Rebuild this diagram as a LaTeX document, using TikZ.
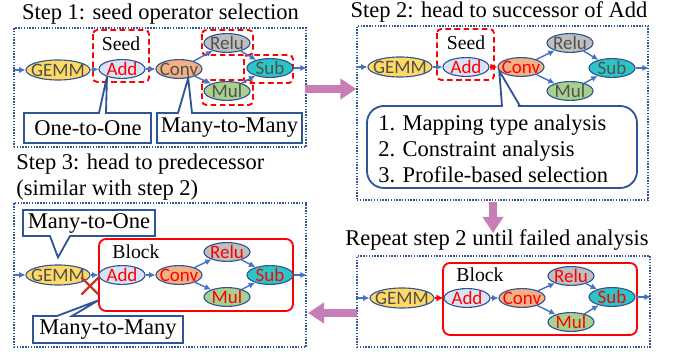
\documentclass[tikz,border=0pt]{standalone}
\usepackage{fontspec}
\setmainfont{Liberation Serif}
\newfontfamily\calibri{Carlito}
\usepackage{tikz}
\usetikzlibrary{shapes.geometric,shapes.misc,arrows.meta,fit,positioning}

\definecolor{opline}{HTML}{2F5597}
\definecolor{flowblue}{HTML}{4472C4}
\definecolor{panelblue}{HTML}{2F5597}
\definecolor{optext}{HTML}{505050}
\definecolor{gemmfill}{HTML}{FFD966}
\definecolor{addfill}{HTML}{DAE3F3}
\definecolor{convfill}{HTML}{F4B183}
\definecolor{relufill}{HTML}{BFBFBF}
\definecolor{mulfill}{HTML}{A9D18E}
\definecolor{subfill}{HTML}{2CC5C5}
\definecolor{pinkarrow}{HTML}{C77DB5}
\definecolor{xred}{HTML}{C0392B}

\begin{document}
\begin{tikzpicture}[x=0.025cm, y=-0.025cm,
  op/.style={ellipse, draw=opline, line width=0.8pt, inner xsep=-3pt, inner ysep=-1.5pt,
    minimum width=1.15cm, minimum height=0.47cm, text=optext,
    font=\calibri\fontsize{13.5}{15}\selectfont},
  gemm/.style={op, fill=gemmfill, minimum width=1.55cm, minimum height=0.5cm},
  flow/.style={draw=flowblue, line width=1pt, -{Latex[length=4.5pt,width=4.5pt]}},
  redflow/.style={flow, draw=red, line width=1.4pt, -{Latex[length=5pt,width=5pt]}},
  panel/.style={draw=panelblue, line width=1pt, dash pattern=on 1pt off 1pt, inner sep=0pt},
  seedbox/.style={draw=red, line width=1.3pt, dash pattern=on 4pt off 2.5pt, rounded corners=3pt},
  blockbox/.style={draw=red, line width=1.3pt, rounded corners=5pt},
  callbox/.style={draw=opline, line width=1.3pt, fill=white},
  calltext/.style={inner sep=0pt, font=\fontsize{16}{18.5}\selectfont},
  title/.style={inner sep=0pt, font=\fontsize{16}{18.5}\selectfont},
  lbl/.style={inner sep=0pt, font=\fontsize{14}{16}\selectfont},
  crossx/.style={cross out, draw=xred, line width=1.6pt, minimum size=0.375cm, inner sep=0pt},
  bigarrow/.style={draw=pinkarrow, line width=0.2cm, -{Triangle[length=0.4cm,width=0.5cm]}}]
  \useasboundingbox (0,0) rectangle (673,352);

  \node[title] (t1) at (160.5,14) {Step 1: seed operator selection};
  \node[title] (t2) at (499,12) {Step 2: head to successor of Add};
  \node[title, align=left, anchor=west] (t3) at (16,177) {Step 3: head to predecessor\\(similar with step 2)};
  \node[title] (t4) at (497,240) {Repeat step 2 until failed analysis};

  \node[panel, fit={(14,28) (306,147)}] (pan1) {};
  \node[panel, fit={(357,26) (648,200)}] (pan2) {};
  \node[panel, fit={(14,203) (306,347)}] (pan3) {};
  \node[panel, fit={(357,256) (650,347)}] (pan4) {};

  \draw[seedbox] (93,30) rectangle (149,82);
  \draw[seedbox] (202,30) rectangle (253,55);
  \draw[seedbox] (202,80) rectangle (253,105);
  \draw[seedbox] (244,55) rectangle (293,83);
  \node[lbl] (seed1) at (121,44) {Seed};
  \draw[seedbox] (437,29) rectangle (494,80);
  \node[lbl] (seed2) at (466,43) {Seed};
  \draw[blockbox] (99,239) rectangle (293,311);
  \node[lbl] (blk3) at (136,252) {Block};
  \draw[blockbox] (443,263) rectangle (637,335);
  \node[lbl] (blk4) at (480,275) {Block};

  \node[gemm] (g1) at (58,70) {GEMM};
  \node[op, fill=addfill, text=red] (a1) at (122,69) {Add};
  \node[op, fill=convfill] (c1) at (179,69) {Conv};
  \node[op, fill=relufill] (r1) at (227,43) {Relu};
  \node[op, fill=mulfill] (m1) at (227,91) {Mul};
  \node[op, fill=subfill] (s1) at (270,68) {Sub};

  \node[gemm] (g2) at (400,67) {GEMM};
  \node[op, fill=addfill, text=red] (a2) at (466,67) {Add};
  \node[op, fill=convfill, text=red] (c2) at (521,67) {Conv};
  \node[op, fill=relufill] (r2) at (570,43) {Relu};
  \node[op, fill=mulfill] (m2) at (570,91) {Mul};
  \node[op, fill=subfill] (s2) at (612,68) {Sub};

  \node[gemm] (g3) at (58,275) {GEMM};
  \node[op, fill=addfill, text=red] (a3) at (122,275) {Add};
  \node[op, fill=convfill, text=red] (c3) at (179,275) {Conv};
  \node[op, fill=relufill, text=red] (r3) at (227,252) {Relu};
  \node[op, fill=mulfill, text=red] (m3) at (227,297) {Mul};
  \node[op, fill=subfill, text=red] (s3) at (270,275) {Sub};

  \node[gemm] (g4) at (402,298) {GEMM};
  \node[op, fill=addfill, text=red] (a4) at (467,298) {Add};
  \node[op, fill=convfill, text=red] (c4) at (522,298) {Conv};
  \node[op, fill=relufill, text=red] (r4) at (571,276) {Relu};
  \node[op, fill=mulfill, text=red] (m4) at (571,322) {Mul};
  \node[op, fill=subfill, text=red] (s4) at (612,297) {Sub};

  \begin{scope}[every edge/.style={flow}]
    \draw (pan1.west |- g1) edge (g1);
    \draw (g1) edge (a1) (a1) edge (c1) (c1) edge (r1) (c1) edge (m1);
    \draw (r1) edge (s1) (m1) edge (s1) (s1) edge (s1 -| pan1.east);
    \draw (pan2.west |- g2) edge (g2);
    \draw (g2) edge (a2) (c2) edge (r2) (c2) edge (m2);
    \draw (r2) edge (s2) (m2) edge (s2) (s2) edge (s2 -| pan2.east);
    \draw (pan3.west |- g3) edge (g3);
    \draw (g3) edge (a3) (a3) edge (c3) (c3) edge (r3) (c3) edge (m3);
    \draw (r3) edge (s3) (m3) edge (s3) (s3) edge (s3 -| pan3.east);
    \draw (pan4.west |- g4) edge (g4);
    \draw (a4) edge (c4) (c4) edge (r4) (c4) edge (m4);
    \draw (r4) edge (s4) (m4) edge (s4) (s4) edge (s4 -| pan4.east);
  \end{scope}
  \draw[redflow] (a2) -- (c2);
  \draw[redflow] (g4) -- (a4);

  \node[crossx] (x3) at (90,286) {};

  \draw[callbox] (24,113) -- (99,113) -- (a1.207) -- (106,113) -- (151,113) -- (151,143) -- (24,143) -- cycle;
  \node[calltext] (oto1) at (88,128) {One-to-One};
  \draw[callbox] (157,113) -- (178,113) -- (c1.315) -- (192,113) -- (302,113) -- (302,143) -- (157,143) -- cycle;
  \node[calltext] (mtm1) at (229.5,128) {Many-to-Many};

  \draw[callbox, rounded corners=12pt] (367,106) rectangle (637,188);
  \fill[white] (503,108.5) -- (c2.190) -- (519,108.5) -- cycle;
  \draw[draw=opline, line width=1.3pt] (502,106) -- (c2.190) -- (520,106);
  \node[calltext, align=left, anchor=west] (steps) at (378,149)
    {1. Mapping type analysis\\2. Constraint analysis\\3. Profile-based selection};

  \draw[callbox] (23,210) -- (155,210) -- (155,236) -- (70,236) -- ([yshift=5pt]g3.north) -- (50,236) -- (23,236) -- cycle;
  \node[calltext] (mto3) at (89,223) {Many-to-One};
  \draw[callbox] (33,316) -- (57,316) -- ([yshift=-4pt]x3.south east) -- (72,316) -- (183,316) -- (183,343) -- (33,343) -- cycle;
  \node[calltext] (mtm3) at (108,330) {Many-to-Many};

  \coordinate (ar1) at (305,89);
  \coordinate (ar2) at (493,202);
  \coordinate (ar2e) at (493,233);
  \coordinate (ar3) at (357,313);
  \draw[bigarrow] (ar1) -- (ar1 -| pan2.west);
  \draw[bigarrow] (ar2) -- (ar2e);
  \draw[bigarrow] (ar3) -- (308,313);
\end{tikzpicture}
\end{document}
